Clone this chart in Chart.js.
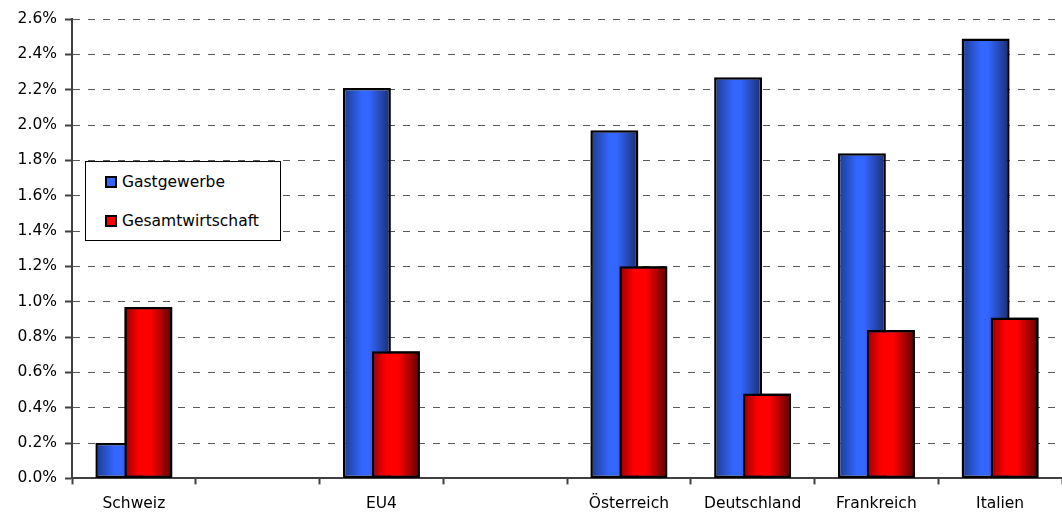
<!DOCTYPE html>
<html>
<head>
<meta charset="utf-8">
<script src="https://cdn.jsdelivr.net/npm/chart.js"></script>
<style>
  html, body { margin: 0; padding: 0; background: #fff; }
  #wrap { position: relative; width: 1062px; height: 527px; }
  #legend {
    position: absolute; left: 85px; top: 161px; width: 194px; height: 78px;
    border: 1px solid #000; background: #fff;
    font-family: "DejaVu Sans"; font-size: 15.5px; color: #000;
  }
  #legend .item { height: 39px; display: flex; align-items: center; padding-left: 19px; }
  #legend .box { width: 12px; height: 12px; box-sizing: border-box; border: 2px solid #000; margin-right: 5px; }
</style>
</head>
<body>
<div id="wrap">
  <canvas id="myChart"></canvas>
  <div id="legend"></div>
</div>

<script>
// Daten
const categories = ['Schweiz', '', 'EU4', '', 'Österreich', 'Deutschland', 'Frankreich', 'Italien'];
const gastgewerbe = [0.20, null, 2.21, null, 1.97, 2.27, 1.84, 2.49];
const gesamtwirtschaft = [0.97, null, 0.72, null, 1.20, 0.48, 0.84, 0.91];
const seriesNames = ['Gastgewerbe', 'Gesamtwirtschaft'];
const yTicks = [0, 0.2, 0.4, 0.6, 0.8, 1.0, 1.2, 1.4, 1.6, 1.8, 2.0, 2.2, 2.4, 2.6];

const FONT = { family: 'DejaVu Sans', size: 15.5 };
const AXIS = '#404040';

// cylinder look: horizontal gradient over each bar
const shades = [
  { flat: '#3366ff', stops: [[0, '#1d3a8c'], [0.4, '#3366ff'], [0.55, '#3366ff'], [1, '#1a2d6c']] },
  { flat: '#ff0000', stops: [[0, '#960000'], [0.3, '#ff0000'], [0.55, '#ff0000'], [1, '#5c0000']] }
];

function shade(i) {
  return function (c) {
    const el = c.element;
    if (!el || el.x === undefined || !el.width) return shades[i].flat;
    const g = c.chart.ctx.createLinearGradient(el.x - el.width / 2, 0, el.x + el.width / 2, 0);
    shades[i].stops.forEach(s => g.addColorStop(s[0], s[1]));
    return g;
  };
}

// red bars overlap the blue ones, so draw them again on top
const redOnTop = {
  id: 'redOnTop',
  afterDatasetsDraw(chart) {
    const meta = chart.getDatasetMeta(1);
    const ctx = chart.ctx;
    ctx.save();
    meta.controller.draw();
    ctx.restore();
  }
};

const data = {
  labels: categories,
  datasets: [
    { label: seriesNames[0], data: gastgewerbe, backgroundColor: shade(0) },
    { label: seriesNames[1], data: gesamtwirtschaft, backgroundColor: shade(1) }
  ]
};

const config = {
  type: 'bar',
  data: data,
  options: {
    responsive: true,
    maintainAspectRatio: false,
    animation: false,
    events: [],
    layout: { padding: { top: 19, right: -2, bottom: 4, left: 0 } },
    datasets: {
      bar: {
        categoryPercentage: 0.4687,
        barPercentage: 1.655,
        borderColor: '#000',
        borderWidth: 2.5,
        borderSkipped: false
      }
    },
    plugins: {
      legend: { display: false },
      tooltip: { enabled: false }
    },
    scales: {
      x: {
        grid: { drawOnChartArea: false, drawTicks: true, tickLength: 6, tickColor: AXIS, tickWidth: 2, offset: true },
        border: { color: AXIS, width: 2 },
        ticks: { color: '#000', font: FONT, padding: 10, maxRotation: 0, autoSkip: false }
      },
      y: {
        min: 0,
        max: 2.6,
        afterBuildTicks: s => { s.ticks = yTicks.map(v => ({ value: v })); },
        afterFit: s => { s.width = 72; },
        grid: { color: '#5a5a5a', lineWidth: 1, tickColor: AXIS, tickLength: 7, tickWidth: 2 },
        border: { color: AXIS, width: 2, dash: [7, 8] },
        ticks: { color: '#000', font: FONT, padding: 8, callback: v => v.toFixed(1) + '%' }
      }
    }
  },
  plugins: [redOnTop]
};

const myChart = new Chart(document.getElementById('myChart'), config);
myChart.update();

// Legende
const legend = document.getElementById('legend');
seriesNames.forEach((name, i) => {
  const row = document.createElement('div');
  row.className = 'item';
  const box = document.createElement('span');
  box.className = 'box';
  box.style.background = shades[i].flat;
  row.appendChild(box);
  row.appendChild(document.createTextNode(name));
  legend.appendChild(row);
});
</script>
</body>
</html>
